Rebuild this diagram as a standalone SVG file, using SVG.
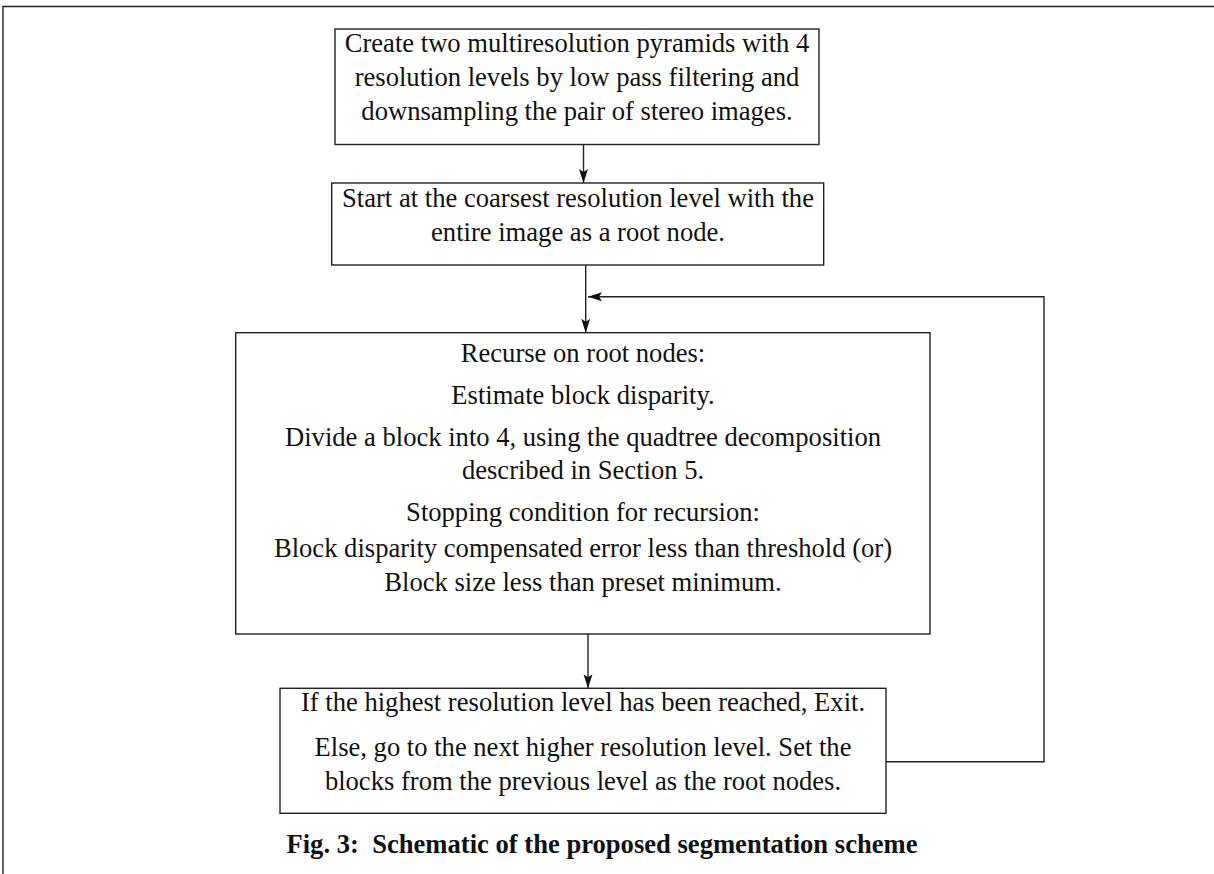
<svg xmlns="http://www.w3.org/2000/svg" width="1214" height="874" viewBox="0 0 1214 874">
<style>
.box{fill:#fff;stroke:#222;stroke-width:1.4}
.edge{fill:none;stroke:#222;stroke-width:1.4}
text{font-family:"Liberation Serif","Times New Roman",serif;font-size:26.6px;fill:#111;text-anchor:middle}
.cap{font-weight:bold;white-space:pre}
</style>
<defs>
<marker id="arr" markerWidth="14" markerHeight="9" refX="14" refY="4.5" viewBox="0 0 14 9" markerUnits="userSpaceOnUse" orient="auto" style="overflow:visible">
<path d="M0,0 L14,4.5 L0,9 L3,4.5 Z" fill="#111"/>
</marker>
</defs>
<rect width="1214" height="874" fill="#fff"/>
<g id="frame"><path d="M3,874 V6.5 H1214" class="edge" stroke-width="2"/></g>
<g id="connectors">
<line class="edge" x1="583.5" y1="144.5" x2="583.5" y2="183" marker-end="url(#arr)"/>
<line class="edge" x1="585.7" y1="265" x2="585.7" y2="332.7" marker-end="url(#arr)"/>
<line class="edge" x1="588" y1="634" x2="588" y2="688.3" marker-end="url(#arr)"/>
<polyline class="edge" points="886,761.7 1044,761.7 1044,296.7 588,296.7" marker-end="url(#arr)"/>
</g>
<g id="n1">
<rect class="box" x="335" y="29" width="484" height="115.5"/>
<text x="577" y="52">Create two multiresolution pyramids with 4</text>
<text x="577" y="86">resolution levels by low pass filtering and</text>
<text x="577" y="120">downsampling the pair of stereo images.</text>
</g>
<g id="n2">
<rect class="box" x="331.7" y="183" width="492" height="82"/>
<text x="578" y="207">Start at the coarsest resolution level with the</text>
<text x="578" y="241">entire image as a root node.</text>
</g>
<g id="n3">
<rect class="box" x="235.7" y="332.7" width="694.3" height="301.3"/>
<text x="583" y="362">Recurse on root nodes:</text>
<text x="583" y="404">Estimate block disparity.</text>
<text x="583" y="446">Divide a block into 4, using the quadtree decomposition</text>
<text x="583" y="479">described in Section 5.</text>
<text x="583" y="521">Stopping condition for recursion:</text>
<text x="583" y="557">Block disparity compensated error less than threshold (or)</text>
<text x="583" y="591">Block size less than preset minimum.</text>
</g>
<g id="n4">
<rect class="box" x="280" y="688.3" width="606" height="125"/>
<text x="583" y="711">If the highest resolution level has been reached, Exit.</text>
<text x="583" y="756">Else, go to the next higher resolution level. Set the</text>
<text x="583" y="790">blocks from the previous level as the root nodes.</text>
</g>
<g id="caption">
<text class="cap" x="602" y="853">Fig. 3:  Schematic of the proposed segmentation scheme</text>
</g>
</svg>
